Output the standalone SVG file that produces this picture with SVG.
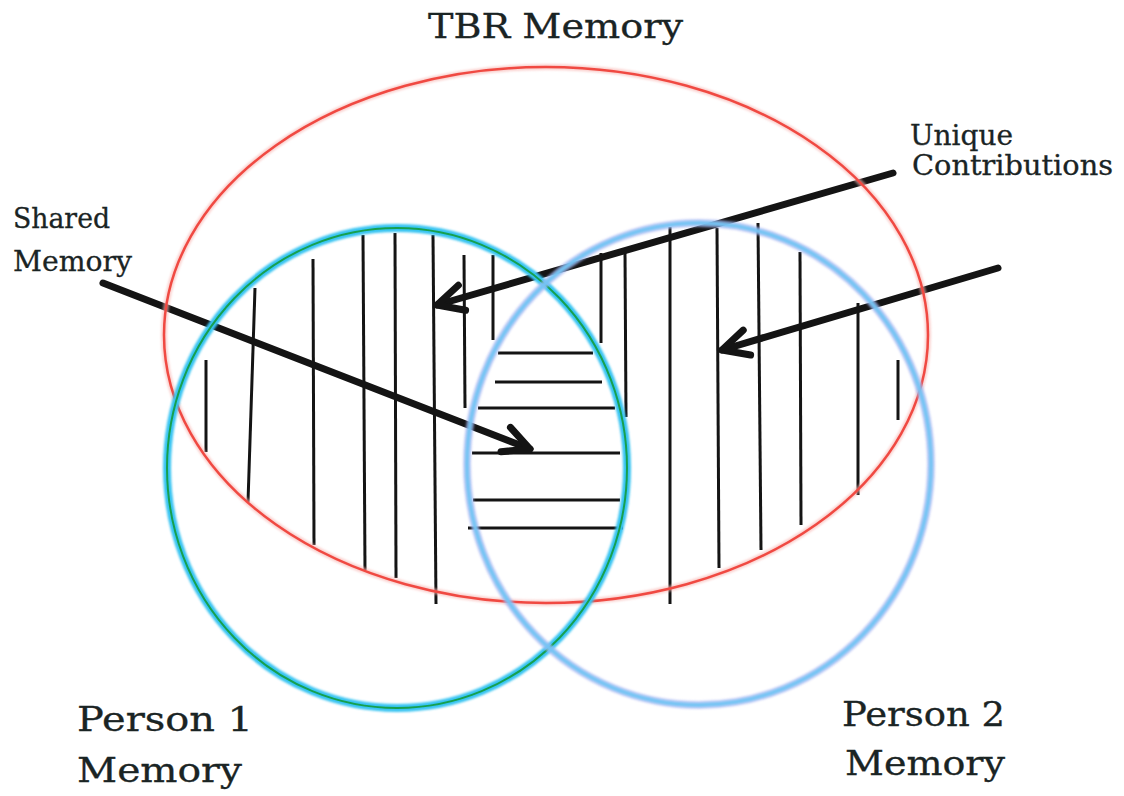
<svg xmlns="http://www.w3.org/2000/svg" width="1124" height="796" viewBox="0 0 1124 796">
<style>
.lbl{font-family:"DejaVu Serif","Liberation Serif",serif;fill:#1a2424;stroke:#1a2424;stroke-width:0.3}
.hatch{stroke:#141414;stroke-width:3;stroke-linecap:butt;fill:none}
.arrow{stroke:#141414;stroke-width:7;fill:none;stroke-linecap:round}
.ring{fill:none}
</style>
<defs>
<filter id="soft" x="-5%" y="-5%" width="110%" height="110%"><feGaussianBlur stdDeviation="1.3"/></filter>
<filter id="soft2" x="-5%" y="-5%" width="110%" height="110%"><feGaussianBlur stdDeviation="0.5"/></filter>
<marker id="chev" viewBox="-34 -20 40 40" refX="0" refY="0" markerWidth="40" markerHeight="40" markerUnits="userSpaceOnUse" orient="auto" overflow="visible">
<path d="M-26,-13 L0,0 L-26,13" fill="none" stroke="#141414" stroke-width="7" stroke-linecap="round" stroke-linejoin="round"/>
</marker>
</defs>
<rect width="1124" height="796" fill="#ffffff"/>

<g id="hatching">
<line class="hatch" x1="206" y1="360" x2="206" y2="452"/>
<line class="hatch" x1="255" y1="288" x2="248" y2="502"/>
<line class="hatch" x1="313" y1="259" x2="314" y2="545"/>
<line class="hatch" x1="363" y1="235" x2="365" y2="570"/>
<line class="hatch" x1="395" y1="233" x2="396" y2="578"/>
<line class="hatch" x1="433" y1="235" x2="436" y2="604"/>
<line class="hatch" x1="464" y1="255" x2="465" y2="408"/>
<line class="hatch" x1="493" y1="255" x2="493" y2="340"/>
<line class="hatch" x1="601" y1="253" x2="601" y2="343"/>
<line class="hatch" x1="625" y1="252" x2="626" y2="417"/>
<line class="hatch" x1="670" y1="227" x2="670" y2="604"/>
<line class="hatch" x1="717" y1="228" x2="719" y2="568"/>
<line class="hatch" x1="758" y1="223" x2="761" y2="550"/>
<line class="hatch" x1="800" y1="252" x2="801" y2="525"/>
<line class="hatch" x1="858" y1="303" x2="858" y2="495"/>
<line class="hatch" x1="898" y1="360" x2="898" y2="420"/>
<line class="hatch" x1="498" y1="353" x2="593" y2="353"/>
<line class="hatch" x1="495" y1="382" x2="602" y2="382"/>
<line class="hatch" x1="478" y1="408" x2="615" y2="408"/>
<line class="hatch" x1="472" y1="453" x2="620" y2="453"/>
<line class="hatch" x1="473" y1="500" x2="620" y2="500"/>
<line class="hatch" x1="468" y1="528" x2="623" y2="528"/>
</g>

<g id="connectors">
<line class="arrow" x1="103" y1="283" x2="530" y2="449" marker-end="url(#chev)"/>
<line class="arrow" x1="893" y1="173" x2="437" y2="305" marker-end="url(#chev)"/>
<line class="arrow" x1="998" y1="268" x2="722" y2="350" marker-end="url(#chev)"/>
</g>

<g id="tbr-memory">
<ellipse class="ring" cx="546" cy="335" rx="382" ry="268" stroke="#f8b4b0" stroke-width="6" filter="url(#soft)" opacity="0.6"/>
<ellipse class="ring" cx="546" cy="335" rx="382" ry="268" stroke="#f04a42" stroke-width="2.5" filter="url(#soft2)"/>
<text class="lbl" x="428" y="38" font-size="33" textLength="255" lengthAdjust="spacingAndGlyphs">TBR Memory</text>
</g>

<g id="person1-memory">
<ellipse class="ring" cx="397" cy="468" rx="230" ry="240" stroke="#38c4f2" stroke-width="8" filter="url(#soft)"/>
<ellipse class="ring" cx="397" cy="468" rx="230" ry="240" stroke="#17a050" stroke-width="2" filter="url(#soft2)"/>
<text class="lbl" x="77" y="731" font-size="33" textLength="176" lengthAdjust="spacingAndGlyphs">Person 1</text>
<text class="lbl" x="77" y="782" font-size="33" textLength="165" lengthAdjust="spacingAndGlyphs">Memory</text>
</g>

<g id="person2-memory">
<ellipse class="ring" cx="699" cy="464" rx="232" ry="241" stroke="#a8b4f2" stroke-width="8" filter="url(#soft)" opacity="0.65"/>
<ellipse class="ring" cx="699" cy="464" rx="232" ry="241" stroke="#74c4f4" stroke-width="4" filter="url(#soft)"/>
<text class="lbl" x="842" y="726" font-size="33" textLength="163" lengthAdjust="spacingAndGlyphs">Person 2</text>
<text class="lbl" x="845" y="775" font-size="33" textLength="160" lengthAdjust="spacingAndGlyphs">Memory</text>
</g>

<g id="shared-memory-label">
<text class="lbl" x="13" y="228" font-size="27" textLength="97" lengthAdjust="spacingAndGlyphs">Shared</text>
<text class="lbl" x="13" y="271" font-size="27" textLength="119" lengthAdjust="spacingAndGlyphs">Memory</text>
</g>

<g id="unique-contributions-label">
<text class="lbl" x="910" y="145" font-size="27" textLength="103" lengthAdjust="spacingAndGlyphs">Unique</text>
<text class="lbl" x="912" y="175" font-size="27" textLength="201" lengthAdjust="spacingAndGlyphs">Contributions</text>
</g>
</svg>
